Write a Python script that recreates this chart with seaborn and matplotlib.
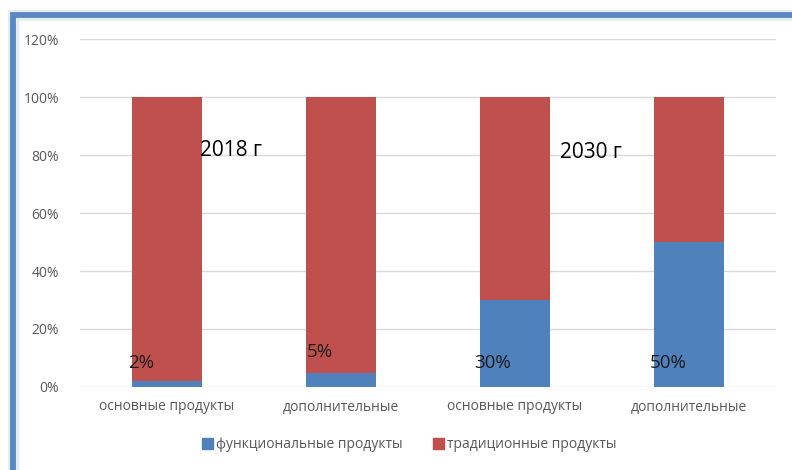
import pandas as pd
import seaborn as sns
import matplotlib.pyplot as plt
from matplotlib.patches import Rectangle, Patch

# data
keys = ['b2018', 'd2018', 'b2030', 'd2030']
tick_labels = ['основные продукты', 'дополнительные', 'основные продукты', 'дополнительные']
functional = [2, 5, 30, 50]
traditional = [98, 95, 70, 50]
value_labels = ['2%', '5%', '30%', '50%']
year_labels = ['2018 г', '2030 г']

df = pd.DataFrame({'key': keys, 'func': functional, 'trad': traditional})
df['total'] = df['func'] + df['trad']

blue = '#4F81BD'
red = '#C0504D'

sns.set_style('white')
plt.rcParams['font.family'] = ['Open Sans', 'DejaVu Sans']

fig = plt.figure(figsize=(7.92, 4.70), dpi=100)
ax = fig.add_axes([80 / 792, 1 - 387 / 470, 696 / 792, 348 / 470])

# stacked bars: total in red first, blue share over it
sns.barplot(data=df, x='key', y='total', order=keys, color=red, width=0.40,
            saturation=1, linewidth=0, ax=ax, zorder=3)
sns.barplot(data=df, x='key', y='func', order=keys, color=blue, width=0.40,
            saturation=1, linewidth=0, ax=ax, zorder=4)

ax.set_ylim(0, 120)
ax.set_xlim(-0.5, 3.5)
ax.set_yticks(range(0, 121, 20))
ax.set_yticklabels([f'{v}%' for v in range(0, 121, 20)])
ax.set_xticks(range(len(keys)))
ax.set_xticklabels(tick_labels)
ax.set_xlabel('')
ax.set_ylabel('')
ax.tick_params(axis='both', length=0, labelsize=10, labelcolor='#595959')
ax.tick_params(axis='x', pad=9)
ax.tick_params(axis='y', pad=15)
ax.yaxis.grid(True, color='#D9D9D9', linewidth=1)
ax.set_axisbelow(True)
for s in ax.spines.values():
    s.set_visible(False)

# value labels and year captions
label_x = [-0.224, 0.805, 1.764, 2.776]
label_y = [8.3, 12, 8.3, 8.3]
for lx, ly, t in zip(label_x, label_y, value_labels):
    ax.text(lx, ly, t, fontsize=13.5, color='#1a1a1a', va='center', ha='left', zorder=6)
ax.text(0.19, 81.7, year_labels[0], fontsize=15, color='black', va='center', ha='left', zorder=6)
ax.text(2.26, 81, year_labels[1], fontsize=15, color='black', va='center', ha='left', zorder=6)

# legend
handles = [Patch(color=blue, label='функциональные продукты'),
           Patch(color=red, label='традиционные продукты')]
fig.legend(handles=handles, loc='center', bbox_to_anchor=(0.517, 1 - 445 / 470), ncol=2,
           frameon=False, fontsize=10, labelcolor='#595959', handlelength=0.8,
           handleheight=0.8, handletextpad=0.2, columnspacing=2.2)

# blue frame round the chart
fig.patches.append(Rectangle((13.5 / 792, -0.2), 1.2, 1.2 - 15 / 470,
                             transform=fig.transFigure, fill=False,
                             edgecolor='#E4ECF6', linewidth=8, zorder=0))
fig.patches.append(Rectangle((13.5 / 792, -0.2), 1.2, 1.2 - 15 / 470,
                             transform=fig.transFigure, fill=False,
                             edgecolor='#5B87C2', linewidth=4.2, zorder=1))

fig.savefig('out.png', dpi=100)
